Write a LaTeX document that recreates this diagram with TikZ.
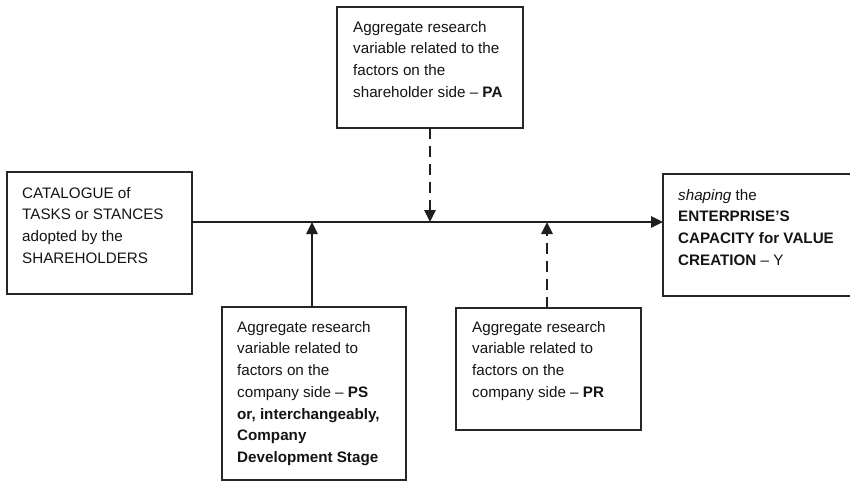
\documentclass[tikz,border=0pt]{standalone}
\usepackage{fontspec}
\setmainfont{Liberation Sans}
\usetikzlibrary{arrows.meta}
\begin{document}
\begin{tikzpicture}[x=1pt,y=-1pt,
  box/.style={draw=black!85,line width=1.4pt,inner sep=0pt},
  txt/.style={anchor=north west,inner sep=0pt,align=left,font=\fontsize{15.2}{21.7}\selectfont,text=black!92},
  conn/.style={line width=2.7pt,draw=black!88,-{Triangle[width=11pt,length=12pt]}},
  dconn/.style={conn,dash pattern=on 11pt off 7pt}]
\useasboundingbox (0,0) rectangle (850,483);
\draw[box] (7,172) rectangle (192,294) coordinate (Lse);
\coordinate (L) at (192,222);
\draw[box] (337,7) rectangle (523,128);
\coordinate (PAb) at (430,128);
\draw[box] (663,174) rectangle (856,296);
\coordinate (Y) at (663,222);
\draw[box] (222,307) rectangle (406,480);
\coordinate (PSt) at (312,307);
\draw[box] (456,308) rectangle (641,430);
\coordinate (PRt) at (547,308);

\node[txt] (tL) at (22,187) {CATALOGUE of\\TASKS or STANCES\\adopted by the\\SHAREHOLDERS};
\node[txt] (tPA) at (353,21) {Aggregate research\\variable related to the\\factors on the\\shareholder side -- \textbf{PA}};
\node[txt] (tY) at (678,189) {\textit{shaping} the\\\textbf{ENTERPRISE'S}\\\textbf{CAPACITY for VALUE}\\\textbf{CREATION} -- Y};
\node[txt] (tPS) at (237,321) {Aggregate research\\variable related to\\factors on the\\company side -- \textbf{PS}\\\textbf{or, interchangeably,}\\\textbf{Company}\\\textbf{Development Stage}};
\node[txt] (tPR) at (472,321) {Aggregate research\\variable related to\\factors on the\\company side -- \textbf{PR}};

\coordinate (m1) at (312,222);
\coordinate (m2) at (430,222);
\coordinate (m3) at (547,222);
\draw[conn] (L) -- (Y);
\draw[dconn] (PAb) -- (m2);
\draw[conn] (PSt) -- (m1);
\draw[dconn] (PRt) -- (m3);
\end{tikzpicture}
\end{document}
